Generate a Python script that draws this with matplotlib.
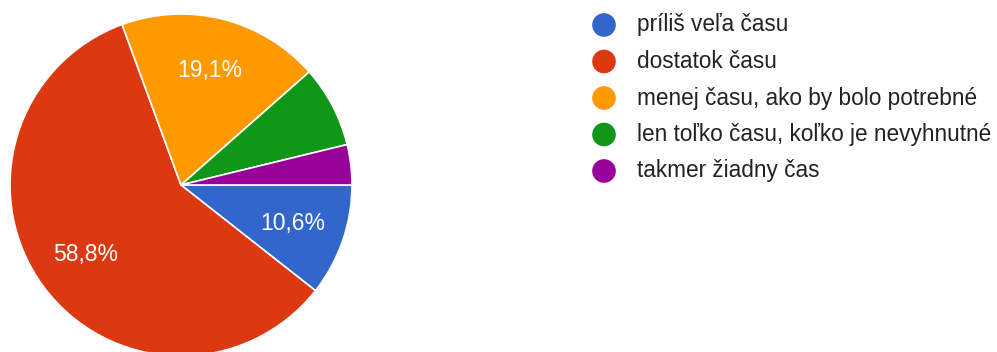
import matplotlib.pyplot as plt

labels = ['príliš veľa času', 'dostatok času', 'menej času, ako by bolo potrebné',
          'len toľko času, koľko je nevyhnutné', 'takmer žiadny čas']
shares = [10.6, 58.8, 19.1, 7.7, 3.8]
colors = ['#3366cc', '#dc3912', '#ff9900', '#109618', '#990099']

plt.rcParams['font.family'] = ['Liberation Sans', 'DejaVu Sans']

W, H = 997, 352
fig = plt.figure(figsize=(W / 100, H / 100), dpi=100)

# pie: center ~ (181,185) px, radius ~171 px
r = 171
cx, cy = 181, 185
ax = fig.add_axes([(cx - r) / W, (H - cy - r) / H, 2 * r / W, 2 * r / H])
wedges, texts, autotexts = ax.pie(
    shares, colors=colors, startangle=0, counterclock=False,
    autopct=lambda p: f'{p:.1f}%'.replace('.', ',') if p >= 10 else '',
    pctdistance=0.69, wedgeprops=dict(edgecolor='white', linewidth=1.2),
    textprops=dict(color='white', fontsize=16.5))
ax.set_xlim(-1, 1)
ax.set_ylim(-1, 1)
ax.set_aspect('equal')
ax.axis('off')

# legend drawn by hand
lax = fig.add_axes([0, 0, 1, 1])
lax.set_xlim(0, W)
lax.set_ylim(H, 0)
lax.axis('off')
for i, (lab, col) in enumerate(zip(labels, colors)):
    y = 25 + i * 36.5
    lax.scatter(604, y, s=290, color=col, edgecolor='none')
    lax.text(637, y, lab, fontsize=16.3, color='#222222', va='center', ha='left')

fig.savefig('out.png', dpi=100)
